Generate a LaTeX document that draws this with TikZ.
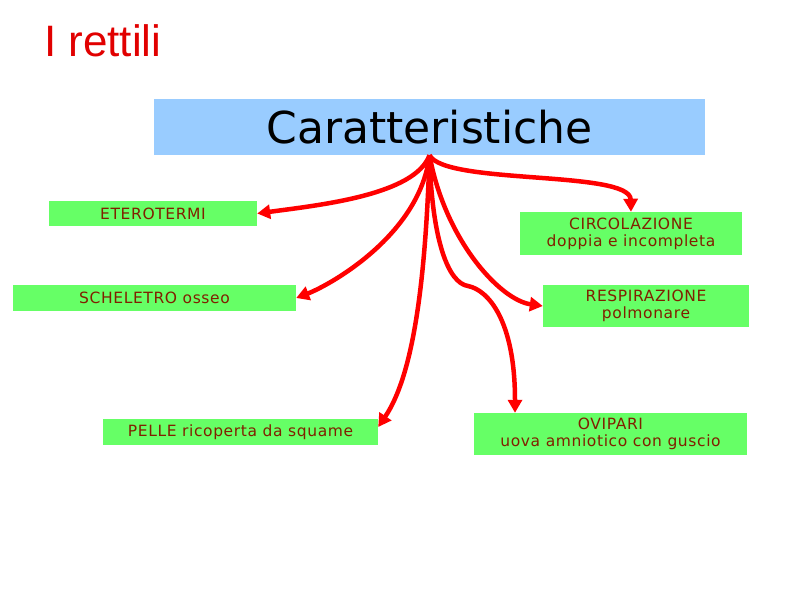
\documentclass[tikz,border=0pt]{standalone}
\usepackage{fontspec}
\setmainfont{DejaVu Sans}
\newfontfamily\titlefont{Liberation Sans}
\newfontfamily\labfont[LetterSpace=4]{DejaVu Sans}
\usetikzlibrary{arrows.meta}
\definecolor{boxblue}{RGB}{153,204,255}
\definecolor{boxgreen}{RGB}{102,255,102}
\definecolor{labtext}{RGB}{128,32,0}
\definecolor{arrred}{RGB}{255,0,0}
\definecolor{titlered}{RGB}{225,0,0}
\begin{document}
\begin{tikzpicture}[x=1pt,y=-1pt,
  greenbox/.style={fill=boxgreen, inner sep=0pt, align=center, text=labtext,
    font=\labfont\fontsize{15.5}{17}\selectfont},
  link/.style={draw=arrred, line width=4.5pt, -{Triangle[length=13pt,width=14pt]}}]
\useasboundingbox (0,0) rectangle (794,595);
\node[anchor=base west, text=titlered, inner sep=0pt,
  font=\titlefont\fontsize{44}{50}\selectfont] (title) at (44,56) {I rettili};
\node[fill=boxblue, minimum width=551pt, minimum height=56pt, inner sep=0pt,
  font=\fontsize{44}{50}\selectfont] (car) at (429.5,127) {Caratteristiche};
\node[greenbox, minimum width=208pt, minimum height=25pt] (etero) at (153,213.5) {ETEROTERMI};
\node[greenbox, minimum width=222pt, minimum height=43pt] (circ) at (631,233.5) {CIRCOLAZIONE\\doppia e incompleta};
\node[greenbox, minimum width=283pt, minimum height=26pt] (schel) at (154.5,298) {SCHELETRO osseo};
\node[greenbox, minimum width=206pt, minimum height=42pt] (resp) at (646,306) {RESPIRAZIONE\\polmonare};
\node[greenbox, minimum width=275pt, minimum height=26pt] (pelle) at (240.5,432) {PELLE ricoperta da squame};
\node[greenbox, minimum width=273pt, minimum height=42pt] (ovi) at (610.5,434) {OVIPARI\\uova amniotico con guscio};
\coordinate (kink) at (468,286);
\draw[link] (car.south) .. controls (415,195) and (320,205) .. (etero.east);
\draw[link] (car.south) .. controls (420,235) and (330,285) .. (schel.east);
\draw[link] (car.south) .. controls (425,300) and (410,380) .. ([yshift=5pt]pelle.east);
\draw[link] (car.south) .. controls (432,240) and (448,283) .. (kink)
  .. controls (488,290) and (515,320) .. ([xshift=-95.5pt]ovi.north);
\draw[link] (car.south) .. controls (445,240) and (500,300) .. (resp.west);
\draw[link] (car.south) .. controls (445,185) and (630,170) .. (circ.north);
\end{tikzpicture}
\end{document}
